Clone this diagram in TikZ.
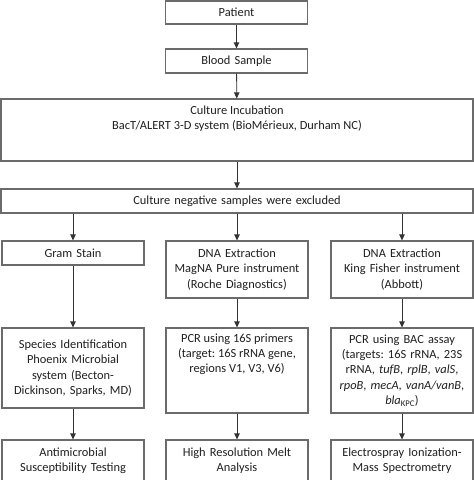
\documentclass[tikz,border=0pt]{standalone}
\usepackage{fontspec}
\setmainfont{Carlito}
\usetikzlibrary{arrows.meta}
\definecolor{boxgray}{gray}{0.42}
\definecolor{linegray}{gray}{0.2}
\frenchspacing

\begin{document}
\begin{tikzpicture}[x=1pt, y=-1pt,
    bnode/.style={draw=boxgray, line width=1.2pt, minimum width=142pt, inner sep=0pt, align=center, text width=136pt, font=\fontsize{12.4}{15.4}\selectfont, text=black!88},
    wnode/.style={bnode, minimum width=472pt, text width=460pt},
    tnode/.style={anchor=north, align=center, inner sep=0pt, font=\fontsize{12.4}{15.4}\selectfont, text=black!88},
    arr/.style={draw=linegray, line width=0.8pt, -{Triangle[width=5.5pt,length=6pt]}}]
    \useasboundingbox (0,0) rectangle (474,480);

    \node[bnode, minimum height=23pt] (pat) at (236.5, 12.5) {Patient};
    \node[bnode, minimum height=24pt] (blood) at (236.5, 61) {Blood Sample};
    \node[wnode, minimum height=62pt, label={[tnode, yshift=-7pt]north:{Culture Incubation\\BacT/ALERT 3-D system (BioMérieux, Durham NC)}}] (cult) at (237, 130) {};
    \node[wnode, minimum height=24pt] (neg) at (237, 201) {Culture negative samples were excluded};

    \node[bnode, minimum height=24pt] (gram) at (73, 253) {Gram Stain};
    \node[bnode, minimum height=57pt] (dna1) at (237, 269.5) {DNA Extraction\\MagNA Pure instrument\\(Roche Diagnostics)};
    \node[bnode, minimum height=57pt] (dna2) at (402, 269.5) {DNA Extraction\\King Fisher instrument\\(Abbott)};

    \node[bnode, minimum height=80pt] (spec) at (73, 368) {Species Identification\\Phoenix Microbial\\system (Becton-\\Dickinson, Sparks, MD)};
    \node[bnode, minimum height=85pt, label={[tnode, yshift=-6pt]north:{PCR using 16S primers\\(target: 16S rRNA gene,\\regions V1, V3, V6)}}] (pcr1) at (237, 370.5) {};
    \node[bnode, minimum height=85pt] (pcr2) at (402, 370.5) {PCR using BAC assay\\(targets: 16S rRNA, 23S\\rRNA, \textit{tufB}, \textit{rplB}, \textit{valS},\\\textit{rpoB}, \textit{mecA}, \textit{vanA/vanB},\\\textit{bla}\textsubscript{KPC})};

    \node[bnode, minimum height=41pt] (ast) at (73, 460.5) {Antimicrobial\\Susceptibility Testing};
    \node[bnode, minimum height=41pt] (hrm) at (237, 460.5) {High Resolution Melt\\Analysis};
    \node[bnode, minimum height=41pt] (esi) at (402, 460.5) {Electrospray Ionization-\\Mass Spectrometry};

    \draw[arr] (pat) -- (blood);
    \draw[arr] (blood) -- (cult);
    \draw[arr] (cult) -- (neg);
    \draw[arr] (neg.south -| gram.north) -- (gram.north);
    \draw[arr] (neg.south -| dna1.north) -- (dna1.north);
    \draw[arr] (neg.south -| dna2.north) -- (dna2.north);
    \draw[arr] (gram) -- (spec);
    \draw[arr] (dna1) -- (pcr1);
    \draw[arr] (dna2) -- (pcr2);
    \draw[arr] (spec) -- (ast);
    \draw[arr] (pcr1) -- (hrm);
    \draw[arr] (pcr2) -- (esi);
\end{tikzpicture}
\end{document}
